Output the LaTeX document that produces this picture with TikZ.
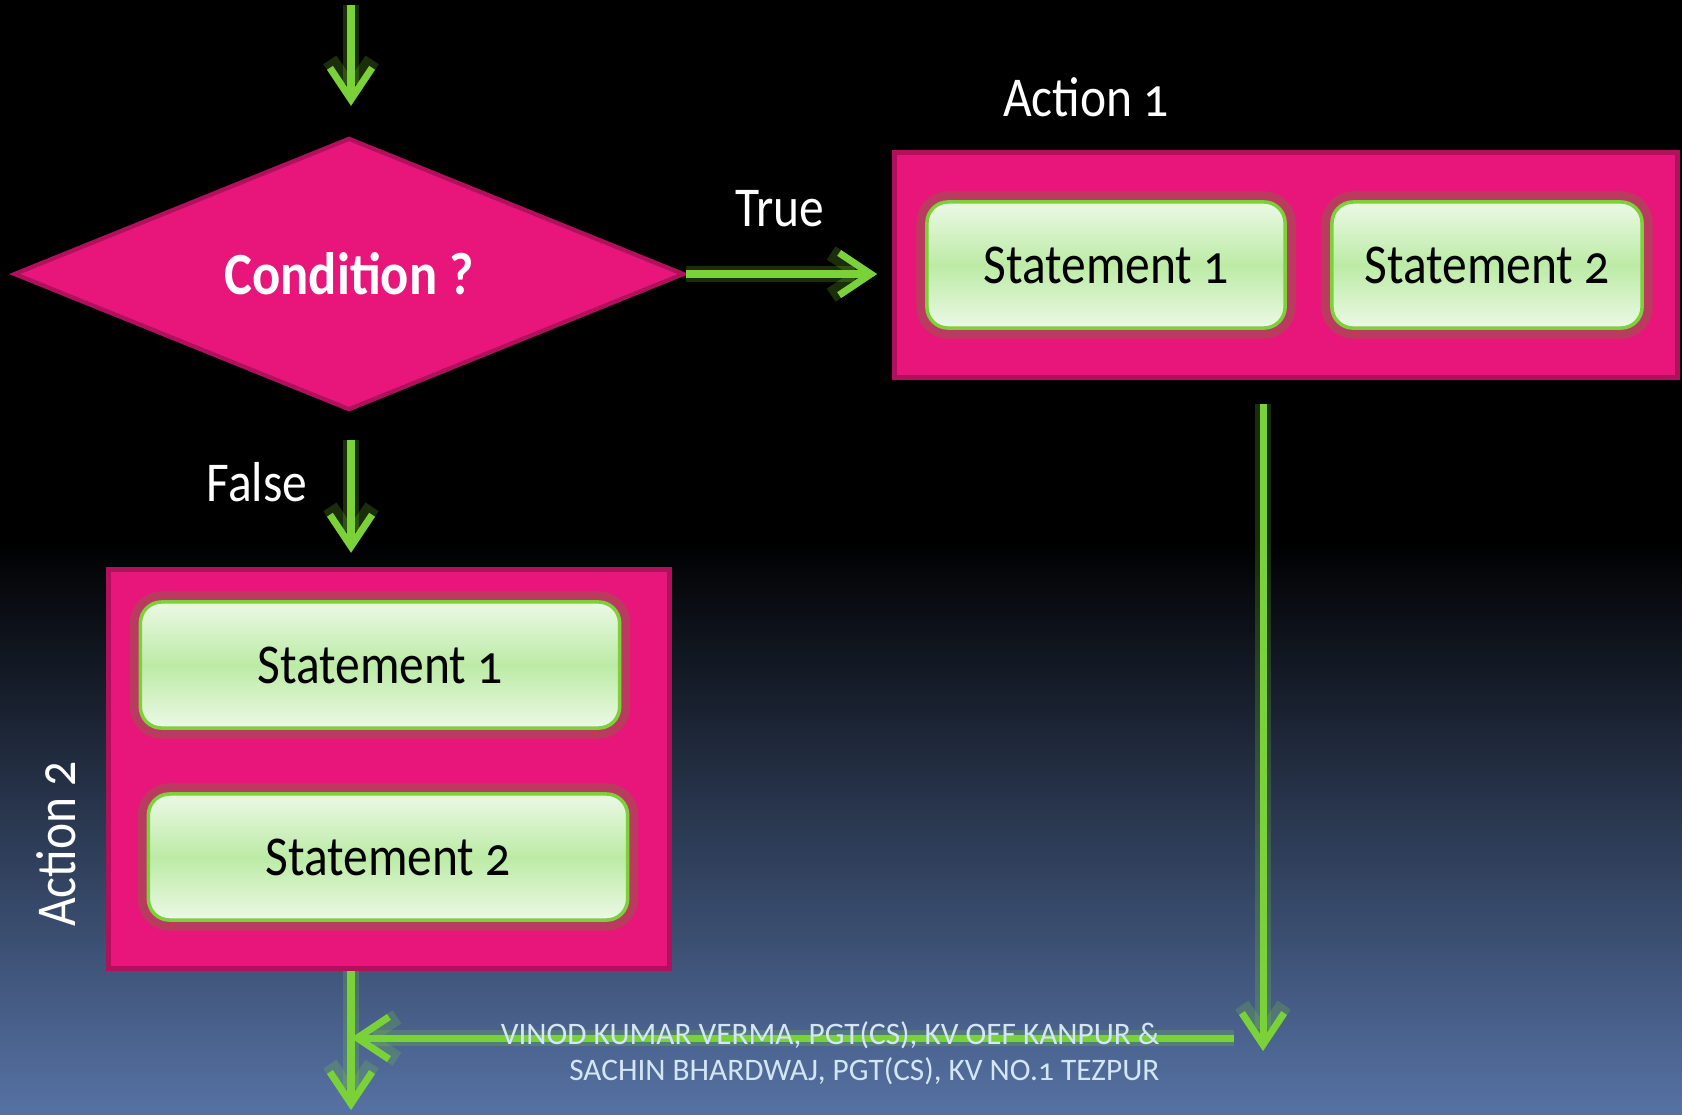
\documentclass[tikz,border=0pt]{standalone}
\usepackage{fontspec}
\setmainfont{Carlito}[Numbers=OldStyle, FakeStretch=0.88]
\newfontfamily\footfont{Carlito}[Numbers=OldStyle]
\usetikzlibrary{shapes.geometric,arrows.meta}

\definecolor{pinkbox}{RGB}{232,22,122}
\definecolor{pinkline}{RGB}{176,16,92}
\definecolor{flowgreen}{RGB}{122,210,56}
\definecolor{paleg}{RGB}{236,249,230}
\definecolor{midg}{RGB}{188,235,166}
\definecolor{bgblue}{RGB}{86,114,164}
\definecolor{footc}{RGB}{212,230,246}

\begin{document}
\begin{tikzpicture}[x=0.01cm,y=-0.01cm,
  flow/.style={draw=flowgreen, line width=2pt,
    -{Straight Barb[length=9pt,width=12pt]},
    preaction={draw=flowgreen, line width=4.5pt, opacity=0.22}},
  actbox/.style={rectangle, draw=pinkline, line width=1.5pt, fill=pinkbox, inner sep=0pt},
  stmt/.style={rectangle, rounded corners=6pt, draw=flowgreen, line width=1pt,
    top color=paleg, bottom color=paleg, middle color=midg, inner sep=0pt,
    minimum height=1.26cm, font=\fontsize{16}{19}\selectfont, text=black,
    preaction={draw=flowgreen!70!black, line width=6pt, opacity=0.3}},
  lbl/.style={text=white, font=\fontsize{16}{19}\selectfont},
  foot/.style={text=footc, font=\footfont\fontsize{8.9}{10.3}\selectfont, align=right, inner sep=0pt}]

\useasboundingbox (0,0) rectangle (1682,1114);
\fill[black] (0,0) rectangle (1682,1114);
\shade[top color=black, bottom color=bgblue] (0,540) rectangle (1682,1114);

% decision
\node[diamond, aspect=2.46, draw=pinkline, line width=1.2pt, fill=pinkbox, inner sep=0pt,
  minimum width=6.70cm, minimum height=2.72cm, text=white,
  font=\bfseries\fontsize{17}{20}\selectfont] (cond) at (349,274) {Condition ?};

% action 1
\node[actbox, minimum width=7.82cm, minimum height=2.25cm] (act1) at (1286,265) {};
\node[stmt, minimum width=3.58cm] (a1s1) at (1106,265) {Statement 1};
\node[stmt, minimum width=3.10cm] (a1s2) at (1487,265) {Statement 2};

% action 2
\node[actbox, minimum width=5.61cm, minimum height=3.99cm] (act2) at (389,769) {};
\node[stmt, minimum width=4.79cm] (a2s1) at (380,665) {Statement 1};
\node[stmt, minimum width=4.79cm] (a2s2) at (388,857) {Statement 2};

\node[lbl] (truelbl) at (780,209) {True};
\node[lbl] (falselbl) at (257,482) {False};
\node[lbl] (a1lbl) at (1086,97) {Action 1};
\node[lbl, rotate=90] (a2lbl) at (56,844) {Action 2};

\coordinate (start) at (351,5);
\coordinate (rdown) at (1263,1051);
\coordinate (rleft) at (1234,1038);
\coordinate (merge) at (351,1038);
\coordinate (exit) at (351,1110);

\draw[flow, shorten >=0.3cm] (start) -- (start |- cond.north);
\draw[flow, shorten >=0.15cm] (cond.east) -- (cond.east -| act1.west);
\draw[flow, shorten <=0.28cm, shorten >=0.14cm] (start |- cond.south) -- (start |- act2.north);
\draw[flow, shorten <=0.24cm] (rdown |- act1.south) -- (rdown);
\draw[flow] (rleft) -- (merge);
\draw[flow] (exit |- act2.south) -- (exit);

\node[foot, anchor=east] (credit) at (1160,1053)
  {VINOD KUMAR VERMA, PGT(CS), KV OEF KANPUR \&\\SACHIN BHARDWAJ, PGT(CS), KV NO.1 TEZPUR};
\end{tikzpicture}
\end{document}
